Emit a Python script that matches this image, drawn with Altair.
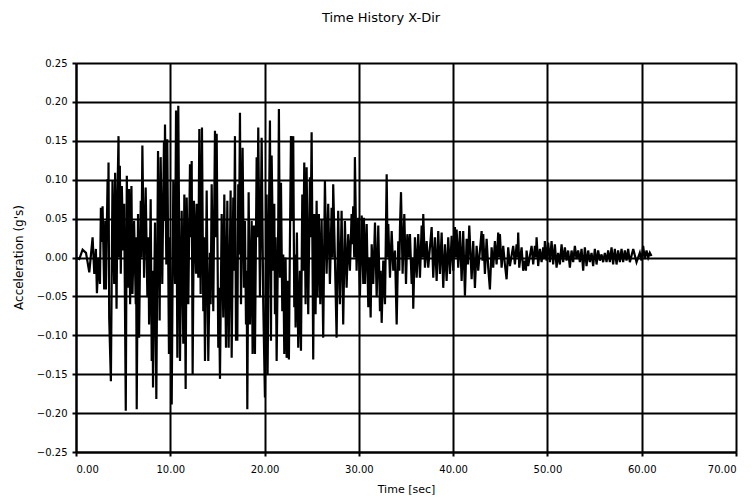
import altair as alt
import pandas as pd

# Acceleration time history: (time [sec], acceleration [g])
seg_0_10 = [
    (0.00, 0.000), (0.35, -0.002), (0.70, 0.010), (1.06, 0.006), (1.41, -0.019), (1.76, 0.026),
    (1.94, -0.021), (2.11, 0.011), (2.22, -0.046), (2.39, 0.000), (2.54, -0.034), (2.64, 0.064),
    (2.73, 0.020), (2.82, 0.066), (2.99, -0.041), (3.10, 0.047), (3.17, -0.041), (3.35, 0.101),
    (3.40, 0.030), (3.45, 0.122), (3.52, -0.077), (3.70, -0.159), (3.87, 0.099), (4.05, -0.034),
    (4.15, 0.109), (4.30, -0.066), (4.40, 0.081), (4.51, 0.156), (4.58, 0.000), (4.65, 0.118),
    (4.75, -0.021), (4.86, 0.092), (5.00, 0.009), (5.11, 0.069), (5.28, -0.197), (5.39, 0.105),
    (5.53, -0.039), (5.63, 0.088), (5.74, -0.060), (5.88, 0.092), (5.99, -0.047), (6.16, 0.047),
    (6.34, -0.060), (6.37, 0.026), (6.44, -0.195), (6.58, 0.056), (6.69, -0.103), (6.87, 0.073),
    (6.94, 0.000), (7.04, 0.144), (7.22, -0.026), (7.39, 0.090), (7.57, -0.051), (7.68, 0.026),
    (7.75, -0.086), (7.92, 0.075), (8.03, -0.133), (8.10, -0.017), (8.17, -0.167), (8.38, 0.045),
    (8.52, -0.182), (8.70, 0.137), (8.87, -0.081), (8.98, 0.129), (9.15, -0.034), (9.33, 0.150),
    (9.37, 0.047), (9.44, 0.171), (9.58, -0.009), (9.68, 0.152), (9.86, -0.124), (9.96, 0.026),
]
seg_10_20 = [
    (10.15, -0.189), (10.32, 0.099), (10.50, -0.034), (10.61, 0.189), (10.75, -0.129), (10.85, 0.195),
    (11.03, -0.133), (11.21, 0.060), (11.38, -0.111), (11.49, 0.081), (11.63, -0.169), (11.74, 0.077),
    (11.91, -0.060), (12.09, 0.120), (12.16, 0.026), (12.27, 0.124), (12.37, -0.150), (12.51, 0.073),
    (12.73, -0.021), (12.80, 0.069), (12.97, -0.026), (13.08, 0.165), (13.22, -0.047), (13.36, 0.167),
    (13.50, -0.069), (13.57, 0.026), (13.68, -0.133), (13.86, 0.086), (14.03, -0.133), (14.21, 0.006),
    (14.28, -0.060), (14.39, 0.094), (14.56, -0.069), (14.74, 0.163), (14.85, 0.026), (14.92, 0.159),
    (15.09, -0.116), (15.16, -0.039), (15.27, -0.156), (15.45, 0.056), (15.62, -0.077), (15.73, 0.081),
    (15.91, -0.116), (16.05, 0.073), (16.19, -0.116), (16.40, 0.086), (16.51, -0.129), (16.68, 0.077),
    (16.75, -0.017), (16.86, 0.156), (16.97, -0.107), (17.04, -0.017), (17.11, -0.107), (17.21, 0.094),
    (17.28, 0.004), (17.39, 0.186), (17.50, -0.060), (17.67, 0.141), (17.81, -0.039), (17.92, 0.047),
    (18.03, -0.086), (18.10, -0.017), (18.17, -0.195), (18.31, 0.084), (18.45, -0.086), (18.63, 0.047),
    (18.73, -0.124), (18.87, 0.041), (18.98, -0.124), (19.16, 0.129), (19.23, 0.026), (19.33, 0.167),
    (19.51, -0.051), (19.69, 0.154), (19.86, -0.060), (20.04, -0.180),
]
seg_20_30 = [
    (20.22, 0.081), (20.32, -0.150), (20.46, 0.047), (20.57, 0.176), (20.68, -0.107), (20.75, 0.131),
    (20.92, -0.017), (21.03, 0.069), (21.10, -0.073), (21.17, 0.026), (21.28, -0.133), (21.45, 0.043),
    (21.52, 0.191), (21.63, -0.026), (21.74, 0.096), (21.88, -0.069), (21.98, 0.004), (22.09, -0.124),
    (22.23, 0.000), (22.34, -0.129), (22.44, -0.030), (22.58, -0.131), (22.69, 0.021), (22.80, 0.156),
    (22.94, 0.047), (23.04, 0.156), (23.15, -0.064), (23.22, 0.004), (23.29, -0.090), (23.43, 0.032),
    (23.57, -0.116), (23.75, -0.017), (23.86, -0.120), (24.00, 0.081), (24.10, -0.017), (24.21, 0.122),
    (24.35, -0.060), (24.46, 0.116), (24.63, -0.073), (24.81, 0.103), (24.88, 0.026), (24.99, 0.161),
    (25.16, -0.131), (25.27, 0.056), (25.41, -0.073), (25.52, 0.073), (25.62, -0.051), (25.76, 0.056),
    (25.91, -0.060), (26.05, 0.049), (26.22, -0.103), (26.40, 0.099), (26.58, -0.021), (26.75, 0.069),
    (26.93, -0.034), (27.11, 0.064), (27.21, 0.000), (27.28, 0.094), (27.46, 0.000), (27.64, -0.103),
    (27.81, 0.060), (27.99, -0.060), (28.17, 0.060), (28.34, -0.086), (28.52, 0.047), (28.70, -0.039),
    (28.87, 0.030), (29.05, -0.017), (29.23, 0.056), (29.33, 0.017), (29.40, 0.066), (29.51, 0.000),
    (29.58, 0.129), (29.76, -0.017), (29.93, 0.051), (30.11, -0.051),
]
seg_30_37 = [
    (30.30, 0.054), (30.47, -0.034), (30.54, 0.051), (30.65, -0.034), (30.83, 0.043), (31.00, -0.064),
    (31.11, 0.000), (31.25, -0.077), (31.36, 0.017), (31.53, -0.034), (31.71, 0.045), (31.89, -0.051),
    (32.06, 0.041), (32.24, -0.069), (32.31, -0.017), (32.42, -0.084), (32.59, -0.004), (32.77, -0.060),
    (32.95, 0.107), (33.05, 0.000), (33.12, 0.043), (33.30, -0.026), (33.48, 0.034), (33.65, -0.017),
    (33.83, 0.009), (34.01, -0.086), (34.18, 0.021), (34.29, -0.017), (34.36, 0.039), (34.47, 0.084),
    (34.64, -0.021), (34.82, 0.056), (35.00, -0.034), (35.14, 0.030), (35.31, 0.000), (35.42, 0.030),
    (35.60, -0.034), (35.70, 0.000), (35.77, -0.066), (35.95, 0.026), (36.13, -0.026), (36.30, 0.030),
    (36.48, -0.026), (36.66, 0.041), (36.76, 0.000), (36.83, 0.056), (37.01, -0.013), (37.19, 0.021),
    (37.36, -0.013),
]
seg_37_50 = [
    (37.72, 0.039), (37.89, -0.026), (38.07, 0.026), (38.25, -0.030), (38.42, 0.034), (38.60, -0.021),
    (38.78, 0.032), (38.95, -0.039), (39.13, 0.017), (39.31, -0.030), (39.48, 0.026), (39.66, -0.021),
    (39.84, 0.028), (40.01, -0.017), (40.19, 0.039), (40.30, 0.000), (40.37, 0.036), (40.54, -0.013),
    (40.72, 0.034), (40.90, -0.030), (41.07, 0.034), (41.25, -0.049), (41.43, 0.024), (41.57, -0.009),
    (41.71, 0.041), (41.96, -0.028), (42.13, 0.021), (42.31, -0.039), (42.49, 0.015), (42.66, -0.017),
    (42.84, 0.009), (43.02, 0.034), (43.12, -0.004), (43.19, 0.030), (43.37, -0.021), (43.55, 0.024),
    (43.72, -0.013), (43.90, -0.041), (44.08, 0.013), (44.25, -0.013), (44.43, 0.021), (44.61, -0.009),
    (44.78, 0.032), (44.89, 0.000), (44.96, 0.030), (45.14, -0.013), (45.31, 0.015), (45.49, -0.009),
    (45.67, -0.028), (45.84, 0.013), (46.02, -0.011), (46.37, 0.015), (46.55, -0.009), (46.73, 0.017),
    (46.83, 0.000), (46.90, 0.032), (47.01, -0.013), (47.26, 0.013), (47.43, -0.017), (47.61, -0.004),
    (47.72, -0.017), (47.79, 0.009), (47.96, -0.011), (48.32, 0.015), (48.49, -0.009), (48.67, 0.015),
    (48.78, 0.000), (48.85, 0.026), (49.02, -0.011), (49.20, 0.011), (49.38, -0.006), (49.55, 0.013),
    (49.66, -0.002), (49.73, 0.021), (49.91, -0.004),
]
seg_50_61 = [
    (50.08, 0.019), (50.26, -0.006), (50.44, 0.021), (50.61, -0.009), (50.79, 0.017), (50.97, -0.013),
    (51.14, 0.006), (51.32, -0.009), (51.50, 0.017), (51.67, -0.006), (51.85, 0.013), (52.03, -0.004),
    (52.20, 0.009), (52.38, -0.013), (52.56, 0.009), (52.73, -0.006), (52.91, 0.015), (53.09, -0.002),
    (53.26, 0.009), (53.44, -0.006), (53.62, 0.011), (53.79, -0.017), (53.97, 0.013), (54.15, -0.011),
    (54.32, 0.009), (54.50, -0.006), (54.68, 0.006), (54.85, -0.011), (55.03, 0.011), (55.21, -0.009),
    (55.38, 0.009), (55.56, -0.004), (55.74, 0.004), (55.91, -0.006), (56.09, 0.006), (56.27, -0.006),
    (56.44, 0.009), (56.62, -0.006), (56.80, 0.013), (56.97, -0.009), (57.15, 0.011), (57.33, -0.009),
    (57.50, 0.009), (57.68, -0.006), (57.86, 0.011), (58.03, -0.006), (58.21, 0.009), (58.39, -0.004),
    (58.56, 0.011), (58.74, -0.006), (59.10, 0.011), (59.45, -0.006), (59.80, 0.006), (59.98, -0.004),
    (60.15, 0.015), (60.33, -0.002), (60.51, 0.009), (60.69, 0.000), (60.86, 0.006), (61.04, 0.002),
]

x_ticks = [0, 10, 20, 30, 40, 50, 60, 70]
y_ticks = [-0.25, -0.20, -0.15, -0.10, -0.05, 0.00, 0.05, 0.10, 0.15, 0.20, 0.25]

rows = seg_0_10 + seg_10_20 + seg_20_30 + seg_30_37 + seg_37_50 + seg_50_61
df = pd.DataFrame(rows, columns=["time", "accel"])
df["order"] = range(len(df))

FONT = "DejaVu Sans"

chart = (
    alt.Chart(df)
    .mark_line(color="black", strokeWidth=2.2, strokeJoin="miter", clip=True)
    .encode(
        x=alt.X(
            "time:Q",
            scale=alt.Scale(domain=[0, 70], nice=False, zero=False),
            axis=alt.Axis(
                values=x_ticks, format=".2f", title="Time [sec]",
                grid=True, gridColor="black", gridWidth=2, gridOpacity=1,
                domainColor="black", domainWidth=2,
                tickColor="black", tickWidth=2, tickSize=4,
                labelPadding=8, labelFont=FONT, labelFontSize=10, labelColor="black",
                titleFont=FONT, titleFontSize=11, titleFontWeight="normal", titleColor="black",
                titleX=330, titleY=37, titleBaseline="middle", titleAlign="center",
            ),
        ),
        y=alt.Y(
            "accel:Q",
            scale=alt.Scale(domain=[-0.25, 0.25], nice=False, zero=False),
            axis=alt.Axis(
                values=y_ticks, format=".2f", title="Acceleration (g's)",
                grid=True, gridColor="black", gridWidth=2, gridOpacity=1,
                domainColor="black", domainWidth=2,
                tickColor="black", tickWidth=2, tickSize=4,
                labelPadding=5, labelFont=FONT, labelFontSize=10, labelColor="black",
                titleFont=FONT, titleFontSize=12, titleFontWeight="normal", titleColor="black",
                titleAngle=-90, titleX=-58, titleY=194, titleBaseline="middle", titleAlign="center",
            ),
        ),
        order="order:Q",
    )
    .properties(
        width=660,
        height=389,
        padding={"left": 68, "top": 55, "right": 10, "bottom": 43},
        autosize=alt.AutoSizeParams(type="none"),
        title=alt.TitleParams(
            "Time History X-Dir", font=FONT, fontSize=13, fontWeight="normal",
            color="black", anchor="middle", offset=33, dx=-25,
        ),
    )
    .configure_view(stroke="black", strokeWidth=2)
    .configure(background="white")
)

chart.save("out.html", embed_options={"renderer": "svg", "actions": False})
